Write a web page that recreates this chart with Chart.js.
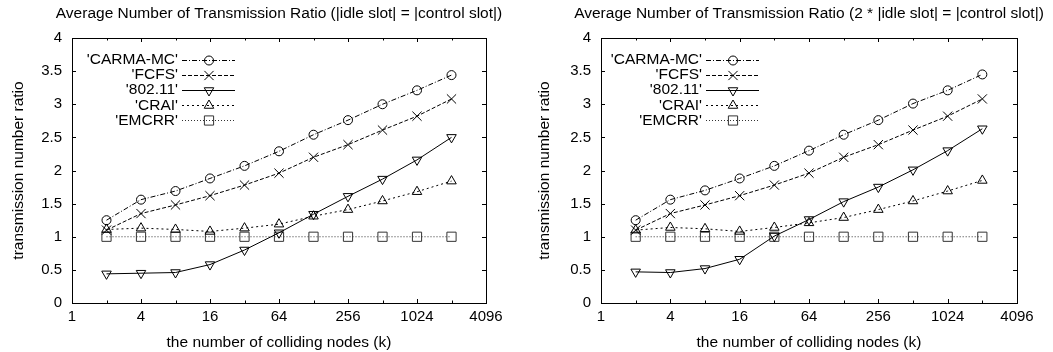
<!DOCTYPE html>
<html>
<head>
    <title>Average Number of Transmission Ratio</title>
    <script src="https://cdn.jsdelivr.net/npm/chart.js"></script>
</head>
<style>
    body { margin: 0; background: #fff; }
    .panel { position: absolute; top: 0; height: 352px; }
</style>
<body>
    <div class="panel" style="left: 0; width: 526px;"><canvas id="leftChart"></canvas></div>
    <div class="panel" style="left: 526px; width: 527px;"><canvas id="rightChart"></canvas></div>
    <script>
        // colliding nodes (k)
        const nodes = [2, 4, 8, 16, 32, 64, 128, 256, 512, 1024, 2048];
        const xTicks = [1, 2, 4, 8, 16, 32, 64, 128, 256, 512, 1024, 2048, 4096];
        const yTicks = [0, 0.5, 1, 1.5, 2, 2.5, 3, 3.5, 4];

        const seriesNames = ["'CARMA-MC'", "'FCFS'", "'802.11'", "'CRAI'", "'EMCRR'"];

        // |idle slot| = |control slot|
        const carmaLeft = [1.25, 1.56, 1.69, 1.88, 2.07, 2.29, 2.54, 2.76, 3.00, 3.21, 3.44];
        const fcfsLeft  = [1.10, 1.35, 1.48, 1.62, 1.78, 1.96, 2.20, 2.39, 2.61, 2.82, 3.08];
        const wifiLeft  = [0.44, 0.45, 0.46, 0.58, 0.80, 1.06, 1.34, 1.61, 1.87, 2.16, 2.50];
        const craiLeft  = [1.11, 1.13, 1.11, 1.08, 1.13, 1.19, 1.31, 1.41, 1.54, 1.68, 1.84];
        const emcrrLeft = [1.00, 1.00, 1.00, 1.00, 1.00, 1.00, 1.00, 1.00, 1.00, 1.00, 1.00];

        // 2 * |idle slot| = |control slot|
        const carmaRight = [1.25, 1.56, 1.70, 1.88, 2.07, 2.30, 2.54, 2.76, 3.01, 3.21, 3.45];
        const fcfsRight  = [1.10, 1.35, 1.48, 1.62, 1.78, 1.96, 2.20, 2.39, 2.61, 2.82, 3.08];
        const wifiRight  = [0.47, 0.46, 0.52, 0.66, 1.01, 1.26, 1.53, 1.75, 2.01, 2.30, 2.63];
        const craiRight  = [1.10, 1.14, 1.12, 1.08, 1.14, 1.21, 1.29, 1.41, 1.54, 1.69, 1.85];
        const emcrrRight = [1.00, 1.00, 1.00, 1.00, 1.00, 1.00, 1.00, 1.00, 1.00, 1.00, 1.00];

        const FONT = 'Liberation Sans, Arial, Helvetica, sans-serif';
        const TEXT_SIZE = 15.5;
        const TICK_SIZE = 15;

        const styles = [
            { dash: [5, 2, 1, 2], color: '#000', point: 'circle', radius: 4.5, rot: 0 },
            { dash: [4, 2], color: '#000', point: 'crossRot', radius: 6.5, rot: 0 },
            { dash: [], color: '#000', point: 'triangle', radius: 5.5, rot: 180 },
            { dash: [2, 3], color: '#000', point: 'triangle', radius: 5.5, rot: 0 },
            { dash: [1, 2], color: '#333', point: 'rect', radius: 6.5, rot: 0 }
        ];

        function makeDatasets(lists) {
            return lists.map(function(values, i) {
                const s = styles[i];
                return {
                    label: seriesNames[i],
                    data: nodes.map(function(k, j) { return { x: k, y: values[j] }; }),
                    borderColor: s.color,
                    borderWidth: 1,
                    borderDash: s.dash,
                    pointStyle: s.point,
                    pointRadius: s.radius,
                    pointRotation: s.rot,
                    pointBorderColor: i == 4 ? '#333' : '#000',
                    pointBackgroundColor: 'rgba(0,0,0,0)',
                    pointBorderWidth: 1,
                    fill: false,
                    tension: 0
                };
            });
        }

        // frame, inner ticks, title and gnuplot-like key
        const gnuplotLook = {
            id: 'gnuplotLook',
            afterDraw: function(chart, args, opts) {
                const ctx = chart.ctx;
                const a = chart.chartArea;
                const xs = chart.scales.x, ys = chart.scales.y;
                ctx.save();
                ctx.strokeStyle = '#000';
                ctx.lineWidth = 1;
                ctx.setLineDash([]);
                ctx.beginPath();
                xs.ticks.forEach(function(t) {
                    const px = Math.round(xs.getPixelForValue(t.value)) + 0.5;
                    const len = (Math.log2(t.value) % 2 == 0) ? 4 : 2.5;
                    ctx.moveTo(px, a.bottom); ctx.lineTo(px, a.bottom - len);
                    ctx.moveTo(px, a.top); ctx.lineTo(px, a.top + len);
                });
                ys.ticks.forEach(function(t) {
                    const py = Math.round(ys.getPixelForValue(t.value)) + 0.5;
                    ctx.moveTo(a.left, py); ctx.lineTo(a.left + 4, py);
                    ctx.moveTo(a.right, py); ctx.lineTo(a.right - 4, py);
                });
                ctx.stroke();
                ctx.strokeRect(Math.round(a.left) + 0.5, Math.round(a.top) + 0.5,
                    Math.round(a.right - a.left), Math.round(a.bottom - a.top));

                ctx.fillStyle = '#000';
                ctx.font = TEXT_SIZE + 'px ' + FONT;
                ctx.textAlign = 'center';
                ctx.textBaseline = 'middle';
                ctx.fillText(opts.text, (a.left + a.right) / 2, 14);

                // key
                ctx.textAlign = 'right';
                chart.data.datasets.forEach(function(ds, i) {
                    const y = a.top + 22 + i * 15.1;
                    const tx = a.left + opts.keyX;
                    ctx.fillStyle = '#000';
                    ctx.fillText(ds.label, tx, y);
                    ctx.strokeStyle = ds.borderColor;
                    ctx.setLineDash(ds.borderDash);
                    ctx.beginPath();
                    ctx.moveTo(tx + 4, Math.round(y) + 0.5);
                    ctx.lineTo(tx + 57, Math.round(y) + 0.5);
                    ctx.stroke();
                    ctx.setLineDash([]);
                    ctx.strokeStyle = ds.pointBorderColor;
                    ctx.fillStyle = 'rgba(0,0,0,0)';
                    Chart.helpers.drawPoint(ctx, {
                        pointStyle: ds.pointStyle,
                        rotation: ds.pointRotation,
                        radius: ds.pointRadius,
                        borderWidth: 1
                    }, tx + 31, Math.round(y) + 0.5);
                });
                ctx.restore();
            }
        };

        function makeChart(id, title, lists, yWidth, padRight, keyX) {
            return new Chart(document.getElementById(id), {
                type: 'line',
                data: { datasets: makeDatasets(lists) },
                plugins: [gnuplotLook],
                options: {
                    responsive: true,
                    maintainAspectRatio: false,
                    animation: false,
                    layout: { padding: { top: 38, right: padRight, left: 0, bottom: 0 } },
                    plugins: {
                        legend: { display: false },
                        tooltip: { enabled: false },
                        gnuplotLook: { text: title, keyX: keyX }
                    },
                    scales: {
                        x: {
                            type: 'logarithmic',
                            min: 1,
                            max: 4096,
                            afterBuildTicks: function(scale) {
                                scale.ticks = xTicks.map(function(v) { return { value: v }; });
                            },
                            afterFit: function(scale) { scale.height = 49; },
                            grid: { display: false, drawTicks: false },
                            border: { display: false },
                            ticks: {
                                autoSkip: false,
                                maxRotation: 0,
                                padding: 5,
                                color: '#000',
                                font: { family: FONT, size: TICK_SIZE },
                                callback: function(v) {
                                    return Math.log2(v) % 2 == 0 ? String(v) : '';
                                }
                            },
                            title: {
                                display: true,
                                text: 'the number of colliding nodes (k)',
                                color: '#000',
                                font: { family: FONT, size: TEXT_SIZE },
                                padding: { top: 0, bottom: 0 }
                            }
                        },
                        y: {
                            min: 0,
                            max: 4,
                            afterBuildTicks: function(scale) {
                                scale.ticks = yTicks.map(function(v) { return { value: v }; });
                            },
                            afterFit: function(scale) { scale.width = yWidth; },
                            grid: { display: false, drawTicks: false },
                            border: { display: false },
                            ticks: {
                                padding: 10,
                                color: '#000',
                                font: { family: FONT, size: TICK_SIZE },
                                callback: function(v) { return String(v); }
                            },
                            title: {
                                display: true,
                                text: 'transmission number ratio',
                                color: '#000',
                                font: { family: FONT, size: TEXT_SIZE },
                                padding: { top: 9, bottom: 0 }
                            }
                        }
                    }
                }
            });
        }

        makeChart('leftChart', 'Average Number of Transmission Ratio (|idle slot| = |control slot|)',
            [carmaLeft, fcfsLeft, wifiLeft, craiLeft, emcrrLeft], 72, 40, 106);
        makeChart('rightChart', 'Average Number of Transmission Ratio (2 * |idle slot| = |control slot|)',
            [carmaRight, fcfsRight, wifiRight, craiRight, emcrrRight], 75, 36, 101);
    </script>
</body>
</html>
